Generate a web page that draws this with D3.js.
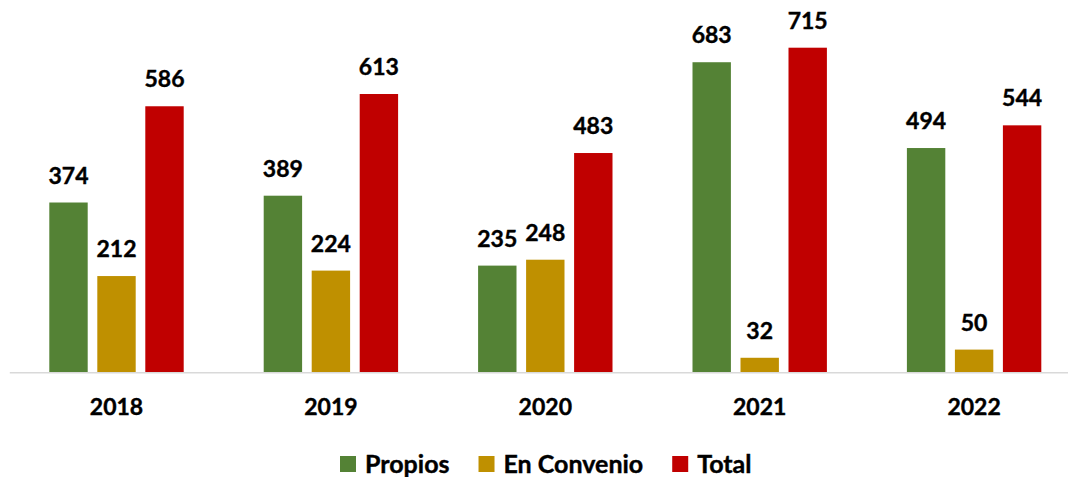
<!DOCTYPE html>
<html lang="es">
<head>
  <meta charset="UTF-8">
  <script src="https://d3js.org/d3.v7.min.js"></script>
  <style>
    body { margin: 0; background: #fff; }
    text { font-family: Lato, "Open Sans", sans-serif; font-weight: 700; fill: #000; }
  </style>
</head>
<body>
  <div id="chart"></div>
  <script>
    const years = ["2018", "2019", "2020", "2021", "2022"];
    const series = ["Propios", "En Convenio", "Total"];
    const propios = [374, 389, 235, 683, 494];
    const convenio = [212, 224, 248, 32, 50];
    const total = [586, 613, 483, 715, 544];
    const colors = ["#548235", "#BF9000", "#C00000"];

    const width = 1068, height = 477;
    const baseY = 372.3;

    const rows = years.map((y, i) => ({ year: y, values: [propios[i], convenio[i], total[i]] }));

    const svg = d3.select("#chart").append("svg")
      .attr("width", width)
      .attr("height", height);

    const x0 = d3.scaleBand().domain(years).range([9.3, 1081.3]).padding(0);
    const x1 = d3.scaleBand().domain(series).range([40, x0.bandwidth() - 40]).paddingInner(0.2).paddingOuter(0);
    const y = d3.scaleLinear().domain([0, 715]).range([baseY, 47.7]);
    const color = d3.scaleOrdinal().domain(series).range(colors);

    const groups = svg.selectAll("g.year")
      .data(rows)
      .enter()
      .append("g")
      .attr("class", "year")
      .attr("transform", d => `translate(${x0(d.year)},0)`);

    groups.selectAll("rect")
      .data(d => d.values.map((v, i) => ({ key: series[i], value: v })))
      .enter()
      .append("rect")
      .attr("x", d => x1(d.key))
      .attr("y", d => y(d.value))
      .attr("width", x1.bandwidth())
      .attr("height", d => baseY - y(d.value))
      .style("fill", d => color(d.key));

    groups.selectAll("text.val")
      .data(d => d.values.map((v, i) => ({ key: series[i], value: v })))
      .enter()
      .append("text")
      .attr("class", "val")
      .attr("x", d => x1(d.key) + x1.bandwidth() / 2)
      .attr("y", d => y(d.value) - 19)
      .attr("text-anchor", "middle")
      .style("font-size", "23px")
      .style("stroke", "#000")
      .style("stroke-width", 0.4)
      .text(d => d.value);

    // axis line + year labels
    const xaxis = d3.axisBottom(x0).tickSize(0).tickPadding(26);
    const ax = svg.append("g").attr("transform", `translate(0,${baseY})`).call(xaxis);
    ax.select(".domain").attr("stroke", "#d9d9d9").attr("stroke-width", 1.5);
    ax.selectAll(".tick text")
      .style("font-size", "23px")
      .style("font-family", "Lato, sans-serif")
      .style("font-weight", 700)
      .style("stroke", "#000")
      .style("stroke-width", 0.4)
      .attr("fill", "#000");

    // legend
    const legend = svg.append("g").attr("transform", "translate(340,464)");
    let lx = 0;
    series.forEach((s, i) => {
      legend.append("rect")
        .attr("x", lx).attr("y", -8)
        .attr("width", 16).attr("height", 16)
        .style("fill", colors[i]);
      const t = legend.append("text")
        .attr("x", lx + 25).attr("y", 0)
        .attr("dy", "0.35em")
        .style("font-size", "25px")
        .style("stroke", "#000")
        .style("stroke-width", 0.4)
        .text(s);
      lx += 25 + t.node().getComputedTextLength() + 29;
    });
  </script>
</body>
</html>
